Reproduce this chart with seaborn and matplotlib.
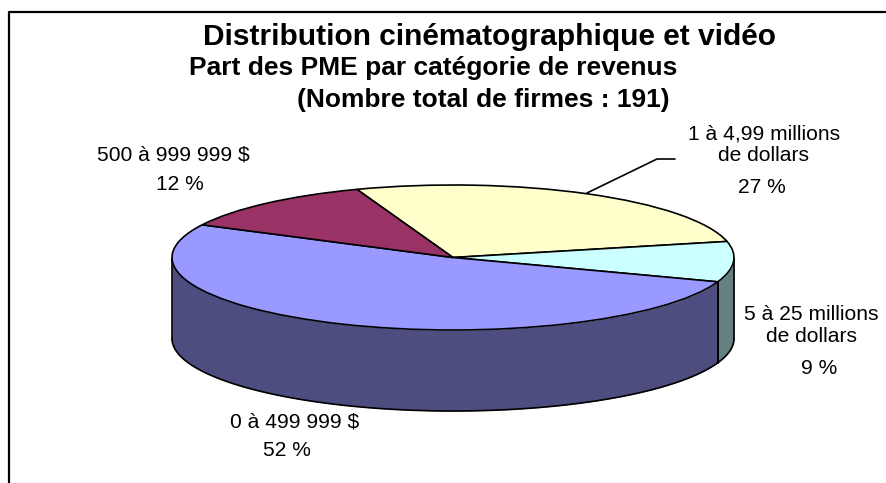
import seaborn as sns
import matplotlib
matplotlib.use("Agg")
import matplotlib.pyplot as plt
from matplotlib.lines import Line2D
import numpy as np

W, H = 886, 483

categories = ["1 à 4,99 millions\nde dollars", "5 à 25 millions\nde dollars", "0 à 499 999 $", "500 à 999 999 $"]
shares = [27, 9, 52, 12]
top_colors = ["#FFFFCC", "#CCFFFF", "#9999FF", "#993366"]
side_colors = ["#808066", "#668080", "#4D4D80", "#4D1A33"]
title_lines = ["Distribution cinématographique et vidéo",
               "Part des PME par catégorie de revenus",
               "(Nombre total de firmes : 191)"]

sns.set_theme(style="white")
plt.rcParams["font.family"] = ["Liberation Sans", "DejaVu Sans"]

# pie geometry in pixels
cx, cy, rx, ry, depth = 453, 257.5, 281, 72.5, 81
start = 110


def fig_xy(x, y):
    return x / W, 1 - y / H


fig = plt.figure(figsize=(W / 100, H / 100), dpi=100)
ax = fig.add_axes([0, 0, 1, 1])

wedges, _ = ax.pie(shares, colors=top_colors, startangle=start, counterclock=False, radius=1, center=(0, 0),
                   wedgeprops={"edgecolor": "black", "linewidth": 1.2})
for w in wedges:
    w.set_zorder(3)
ax.set_aspect("auto")
ax.set_xlim(-cx / rx, (W - cx) / rx)
ax.set_ylim(-(H - cy) / ry, cy / ry)
ax.axis("off")

# side wall, only the front half of the disc shows
edges = start - np.cumsum([0] + shares) * 3.6
d = depth / ry
for i, c in enumerate(side_colors):
    a, b = edges[i + 1], edges[i]
    # shift by whole turns to get the part between 180 and 360
    while a >= 360:
        a, b = a - 360, b - 360
    while b <= 180:
        a, b = a + 360, b + 360
    a, b = max(a, 180), min(b, 360)
    if a >= b:
        continue
    t = np.radians(np.linspace(a, b, 120))
    ax.fill_between(np.cos(t), np.sin(t) - d, np.sin(t), color=c, linewidth=0, zorder=1)
    ax.plot(np.cos(t), np.sin(t) - d, color="black", lw=1.2, zorder=2)
    ax.plot([np.cos(t[0])] * 2, [np.sin(t[0]), np.sin(t[0]) - d], color="black", lw=1.2, zorder=2)
    ax.plot([np.cos(t[-1])] * 2, [np.sin(t[-1]), np.sin(t[-1]) - d], color="black", lw=1.2, zorder=2)

# chart frame, open at the bottom and right in the scan
xs, ys = fig_xy(np.array([9, 9, 886]), np.array([483, 12, 12]))
fig.add_artist(Line2D(xs, ys, color="black", lw=1.6, transform=fig.transFigure))

# titles
title_pos = [(203, 37), (189, 68), (297, 100)]
title_sizes = [21.5, 19, 19]
for line, (x, y), fs in zip(title_lines, title_pos, title_sizes):
    fig.text(*fig_xy(x, y), line, fontsize=fs, fontweight="bold", ha="left", va="center", color="black")

# slice labels
text_kw = dict(fontsize=15.1, ha="center", va="center", color="black")
fig.text(*fig_xy(764, 145), categories[0], linespacing=1.2, **text_kw)
fig.text(*fig_xy(762, 188), str(shares[0]) + " %", **text_kw)
fig.text(*fig_xy(811, 326), categories[1], linespacing=1.2, **text_kw)
fig.text(*fig_xy(819, 369), str(shares[1]) + " %", **text_kw)
fig.text(*fig_xy(295, 422), categories[2], **text_kw)
fig.text(*fig_xy(287, 451), str(shares[2]) + " %", **text_kw)
fig.text(*fig_xy(173, 155), categories[3], **text_kw)
fig.text(*fig_xy(180, 184), str(shares[3]) + " %", **text_kw)

# leader line to the yellow slice
xs, ys = fig_xy(np.array([587, 657, 675]), np.array([193, 159, 159]))
fig.add_artist(Line2D(xs, ys, color="black", lw=1.2, transform=fig.transFigure))

fig.savefig("out.png", dpi=100, facecolor="white")
